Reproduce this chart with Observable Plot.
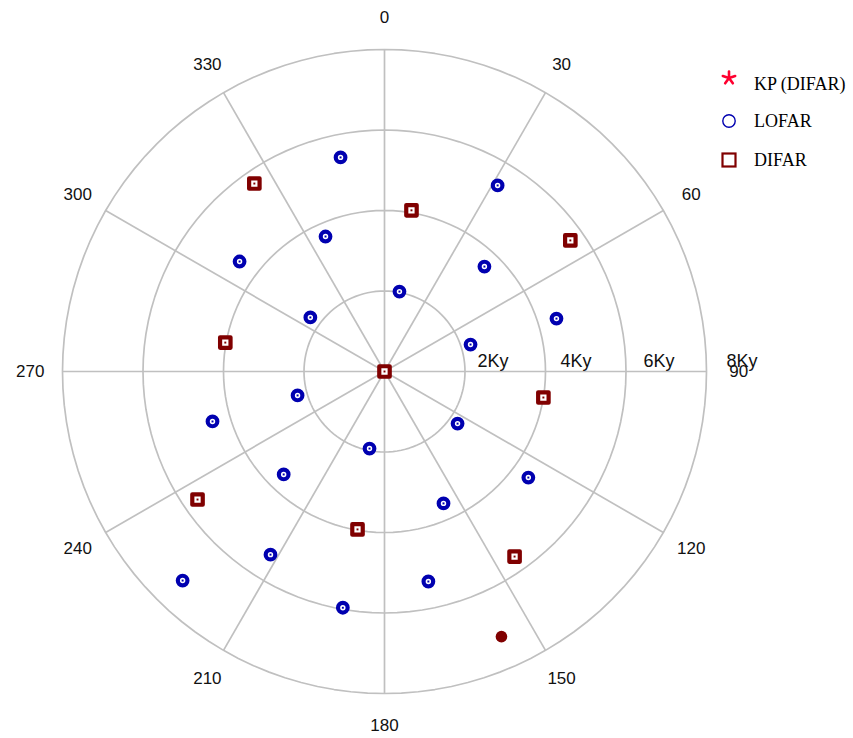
<!DOCTYPE html>
<html>
<head>
<meta charset="utf-8">
<script src="https://cdn.jsdelivr.net/npm/d3@7"></script>
<script src="https://cdn.jsdelivr.net/npm/@observablehq/plot@0.6"></script>
<style>
  html, body { margin: 0; padding: 0; background: #fff; }
  #wrap { position: relative; width: 853px; height: 738px; overflow: hidden; }
  #chart svg { display: block; }
  .leg { position: absolute; font-family: "Liberation Serif", "Times New Roman", serif; font-size: 18px; color: #000; line-height: 20px; white-space: nowrap; }
  .legsym { position: absolute; }
</style>
</head>
<body>
<div id="wrap">
  <div id="chart"></div>
</div>
<script>
// ---- data ----
const ringValues = [2, 4, 6, 8];
const ringLabels = ["2Ky", "4Ky", "6Ky", "8Ky"];
const spokeAngles = [0, 30, 60, 90, 120, 150, 180, 210, 240, 270, 300, 330];
const angleLabels = ["0", "30", "60", "90", "120", "150", "180", "210", "240", "270", "300", "330"];

const lofarBearing = [348.4, 31.3, 336.4, 43.6, 307.2, 10.6, 72.9, 306.1, 72.6, 254.6, 253.8, 125.5, 191.0, 224.4, 126.4, 155.9, 211.9, 224.0, 168.2, 190.0];
const lofarRange   = [5.43, 5.41, 3.66, 3.60, 4.52, 2.02, 4.47, 2.28, 2.24, 2.24, 4.45, 2.23, 1.95, 3.58, 4.44, 3.59, 5.36, 7.22, 5.33, 5.96];

const difarBearing = [325.3, 9.5, 54.8, 280.3, 0, 99.3, 235.6, 189.7, 144.9];
const difarRange   = [5.68, 4.06, 5.65, 4.02, 0, 4.00, 5.63, 3.98, 5.62];

const kpBearing = [156.2];
const kpRange   = [7.2];

const seriesNames = ["KP (DIFAR)", "LOFAR", "DIFAR"];

// ---- helpers ----
const rad = a => a * Math.PI / 180;
const toPts = (bearings, ranges) => bearings.map((b, i) => ({b, r: ranges[i]}));
const px = d => d.r * Math.sin(rad(d.b));
const py = d => d.r * Math.cos(rad(d.b));

const lofar = toPts(lofarBearing, lofarRange);
const difar = toPts(difarBearing, difarRange);
const kp = toPts(kpBearing, kpRange);

const outer = ringValues[ringValues.length - 1];
const ringPts = ringValues.flatMap(r => d3.range(0, 361, 3).map(b => ({ring: r, b, r})));
const spokes = spokeAngles.map(b => ({b, r: outer}));
const angLab = spokeAngles.map((b, i) => ({b, r: outer * 1.1, label: angleLabels[i]}));
const rLab = ringValues.map((r, i) => ({r, label: ringLabels[i]}));

const W = 853, H = 738;
const cx = 384, cy = 371, pxPerUnit = 40.25;

const blue = "#0000b0", dred = "#800000", grid = "#c0c0c0";

const plot = Plot.plot({
  width: W, height: H,
  margin: 0,
  x: {domain: [-cx / pxPerUnit, (W - cx) / pxPerUnit], axis: null},
  y: {domain: [-(H - cy) / pxPerUnit, cy / pxPerUnit], axis: null},
  style: {background: "white"},
  marks: [
    Plot.line(ringPts, {x: px, y: py, z: "ring", stroke: grid, strokeWidth: 1.7}),
    Plot.link(spokes, {x1: 0, y1: 0, x2: px, y2: py, stroke: grid, strokeWidth: 1.7}),
    Plot.text(angLab, {x: px, y: py, text: "label", fontSize: 17, fill: "#111", fontFamily: "Liberation Sans, Arial, sans-serif"}),
    Plot.text(rLab, {x: d => d.r * 1.031, y: 0, text: "label", textAnchor: "start", dx: 10, dy: -10, fontSize: 18, fill: "#111", fontFamily: "Liberation Sans, Arial, sans-serif"}),
    Plot.dot(kp, {x: px, y: py, r: 5.8, fill: dred, stroke: "none"}),
    Plot.dot(lofar, {x: px, y: py, r: 4.8, fill: "white", stroke: blue, strokeWidth: 4.2}),
    Plot.dot(lofar, {x: px, y: py, r: 1.1, symbol: "square", fill: blue, stroke: "none"}),
    Plot.dot(difar, {x: px, y: py, r: 5.9, symbol: "square", fill: "white", stroke: dred, strokeWidth: 4.2, strokeLinejoin: "round"}),
    Plot.dot(difar, {x: px, y: py, r: 1.1, symbol: "square", fill: dred, stroke: "none"})
  ]
});
document.getElementById("chart").appendChild(plot);

// ---- legend ----
const wrap = document.getElementById("wrap");
const legRows = [
  {name: seriesNames[0], sy: 78, ty: 84, sym: `<svg width="20" height="20" viewBox="-10 -10 20 20">${d3.range(5).map(i => { const a = rad(i * 72); return `<line x1="0" y1="0" x2="${(6.5*Math.sin(a)).toFixed(2)}" y2="${(-6.5*Math.cos(a)).toFixed(2)}" stroke="#ff0030" stroke-width="2.6" stroke-linecap="round"/>`; }).join("")}</svg>`},
  {name: seriesNames[1], sy: 121, ty: 121, sym: `<svg width="20" height="20" viewBox="-10 -10 20 20"><circle r="6.2" fill="none" stroke="${blue}" stroke-width="1.4"/></svg>`},
  {name: seriesNames[2], sy: 160, ty: 160, sym: `<svg width="20" height="20" viewBox="-10 -10 20 20"><rect x="-6.5" y="-6.5" width="13" height="13" fill="none" stroke="${dred}" stroke-width="2.2"/></svg>`}
];
legRows.forEach(row => {
  const s = document.createElement("div");
  s.className = "legsym";
  s.style.left = (729 - 10) + "px";
  s.style.top = (row.sy - 10) + "px";
  s.innerHTML = row.sym;
  wrap.appendChild(s);
  const t = document.createElement("div");
  t.className = "leg";
  t.style.left = "754px";
  t.style.top = (row.ty - 10) + "px";
  t.textContent = row.name;
  wrap.appendChild(t);
});
</script>
</body>
</html>
